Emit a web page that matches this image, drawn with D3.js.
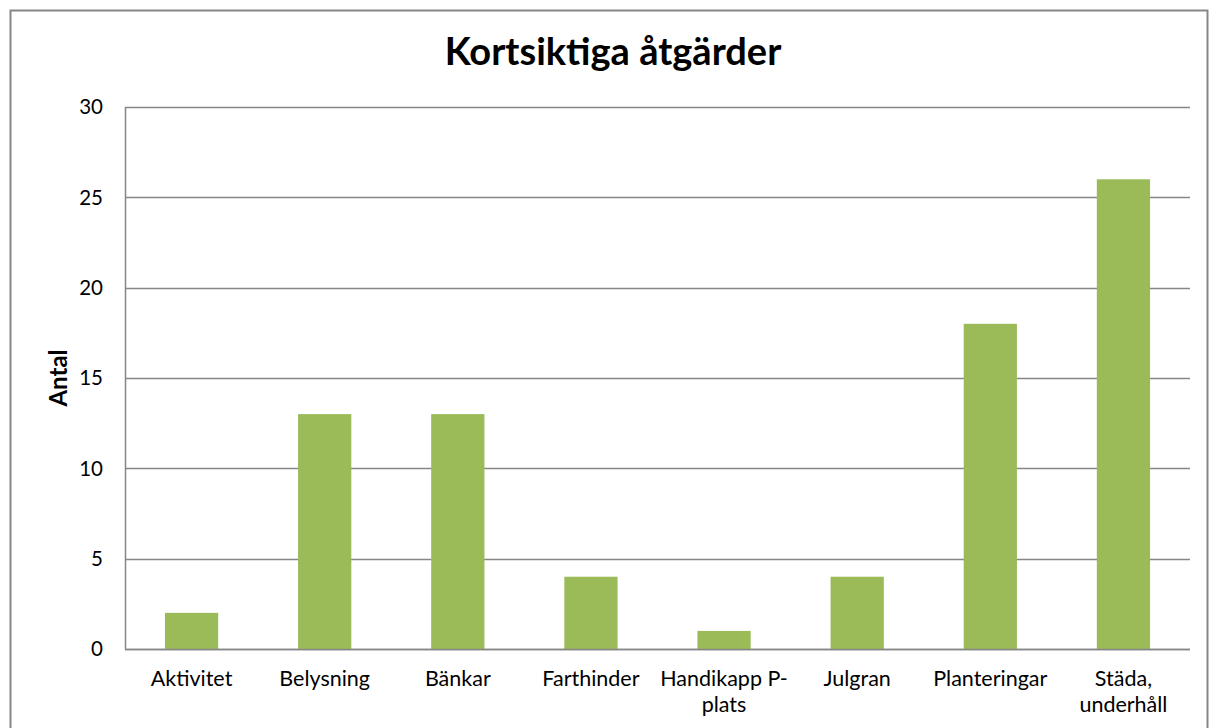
<!DOCTYPE html>
<html><head><meta charset="utf-8">
<script src="https://cdn.jsdelivr.net/npm/d3@7"></script>
<style>
body{margin:0;background:#fff;}
text{font-family:"Lato","Open Sans",sans-serif;fill:#000;}
</style></head>
<body><svg id="c" width="1209" height="728"></svg>
<script>
const categories = ["Aktivitet","Belysning","Bänkar","Farthinder","Handikapp P-plats","Julgran","Planteringar","Städa, underhåll"];
const categoryLines = [["Aktivitet"],["Belysning"],["Bänkar"],["Farthinder"],["Handikapp P-","plats"],["Julgran"],["Planteringar"],["Städa,","underhåll"]];
const values = [2,13,13,4,1,4,18,26];
const yTicks = [0,5,10,15,20,25,30];
const title = "Kortsiktiga åtgärder";
const yTitle = "Antal";

const svg = d3.select("#c");
const m = {left:125, right:1190, top:107, bottom:649};
svg.append("rect").attr("x",10.5).attr("y",10.5).attr("width",1197).attr("height",730)
  .attr("fill","none").attr("stroke","#868686").attr("stroke-width",2);

const x = d3.scaleBand().domain(categories).range([m.left,m.right]).padding(0);
const y = d3.scaleLinear().domain([0,30]).range([m.bottom,m.top]);

// gridlines
svg.append("g").selectAll("line").data(yTicks).join("line")
  .attr("x1",m.left).attr("x2",m.right)
  .attr("y1",d=>Math.round(y(d))+0.5).attr("y2",d=>Math.round(y(d))+0.5)
  .attr("stroke","#868686").attr("stroke-width",1.5);
// y axis line
svg.append("line").attr("x1",m.left+0.5).attr("x2",m.left+0.5).attr("y1",m.top).attr("y2",m.bottom)
  .attr("stroke","#868686").attr("stroke-width",1.5);

// bars
const bw = x.bandwidth()/2.5;
svg.append("g").selectAll("rect").data(values).join("rect")
  .attr("x",(d,i)=>x(categories[i])+x.bandwidth()/2-bw/2)
  .attr("width",bw)
  .attr("y",d=>y(d)).attr("height",d=>y(0)-y(d))
  .attr("fill","#9BBB59");
// redraw baseline over bars
svg.append("line").attr("x1",m.left).attr("x2",m.right).attr("y1",Math.round(y(0))+0.5).attr("y2",Math.round(y(0))+0.5)
  .attr("stroke","#868686").attr("stroke-width",1.5);

// y tick labels
svg.append("g").selectAll("text").data(yTicks).join("text")
  .attr("x",103).attr("y",d=>y(d)).attr("dy","0.36em")
  .attr("text-anchor","end").attr("font-size",20.5).text(d=>d);

// x labels
const xl = svg.append("g").selectAll("text").data(categories).join("text")
  .attr("x",d=>x(d)+x.bandwidth()/2).attr("y",686)
  .attr("text-anchor","middle").attr("font-size",21.5);
xl.each(function(d,i){
  d3.select(this).selectAll("tspan").data(categoryLines[i]).join("tspan")
    .attr("x",x(d)+x.bandwidth()/2).attr("dy",(t,j)=>j===0?0:26).text(t=>t);
});

// titles
svg.append("text").attr("x",613).attr("y",65).attr("text-anchor","middle")
  .attr("font-size",38).attr("font-weight","bold").text(title);
svg.append("text").attr("transform",`translate(67,${(m.top+m.bottom)/2}) rotate(-90)`)
  .attr("text-anchor","middle").attr("font-size",24).attr("font-weight","bold").text(yTitle);
</script></body></html>
